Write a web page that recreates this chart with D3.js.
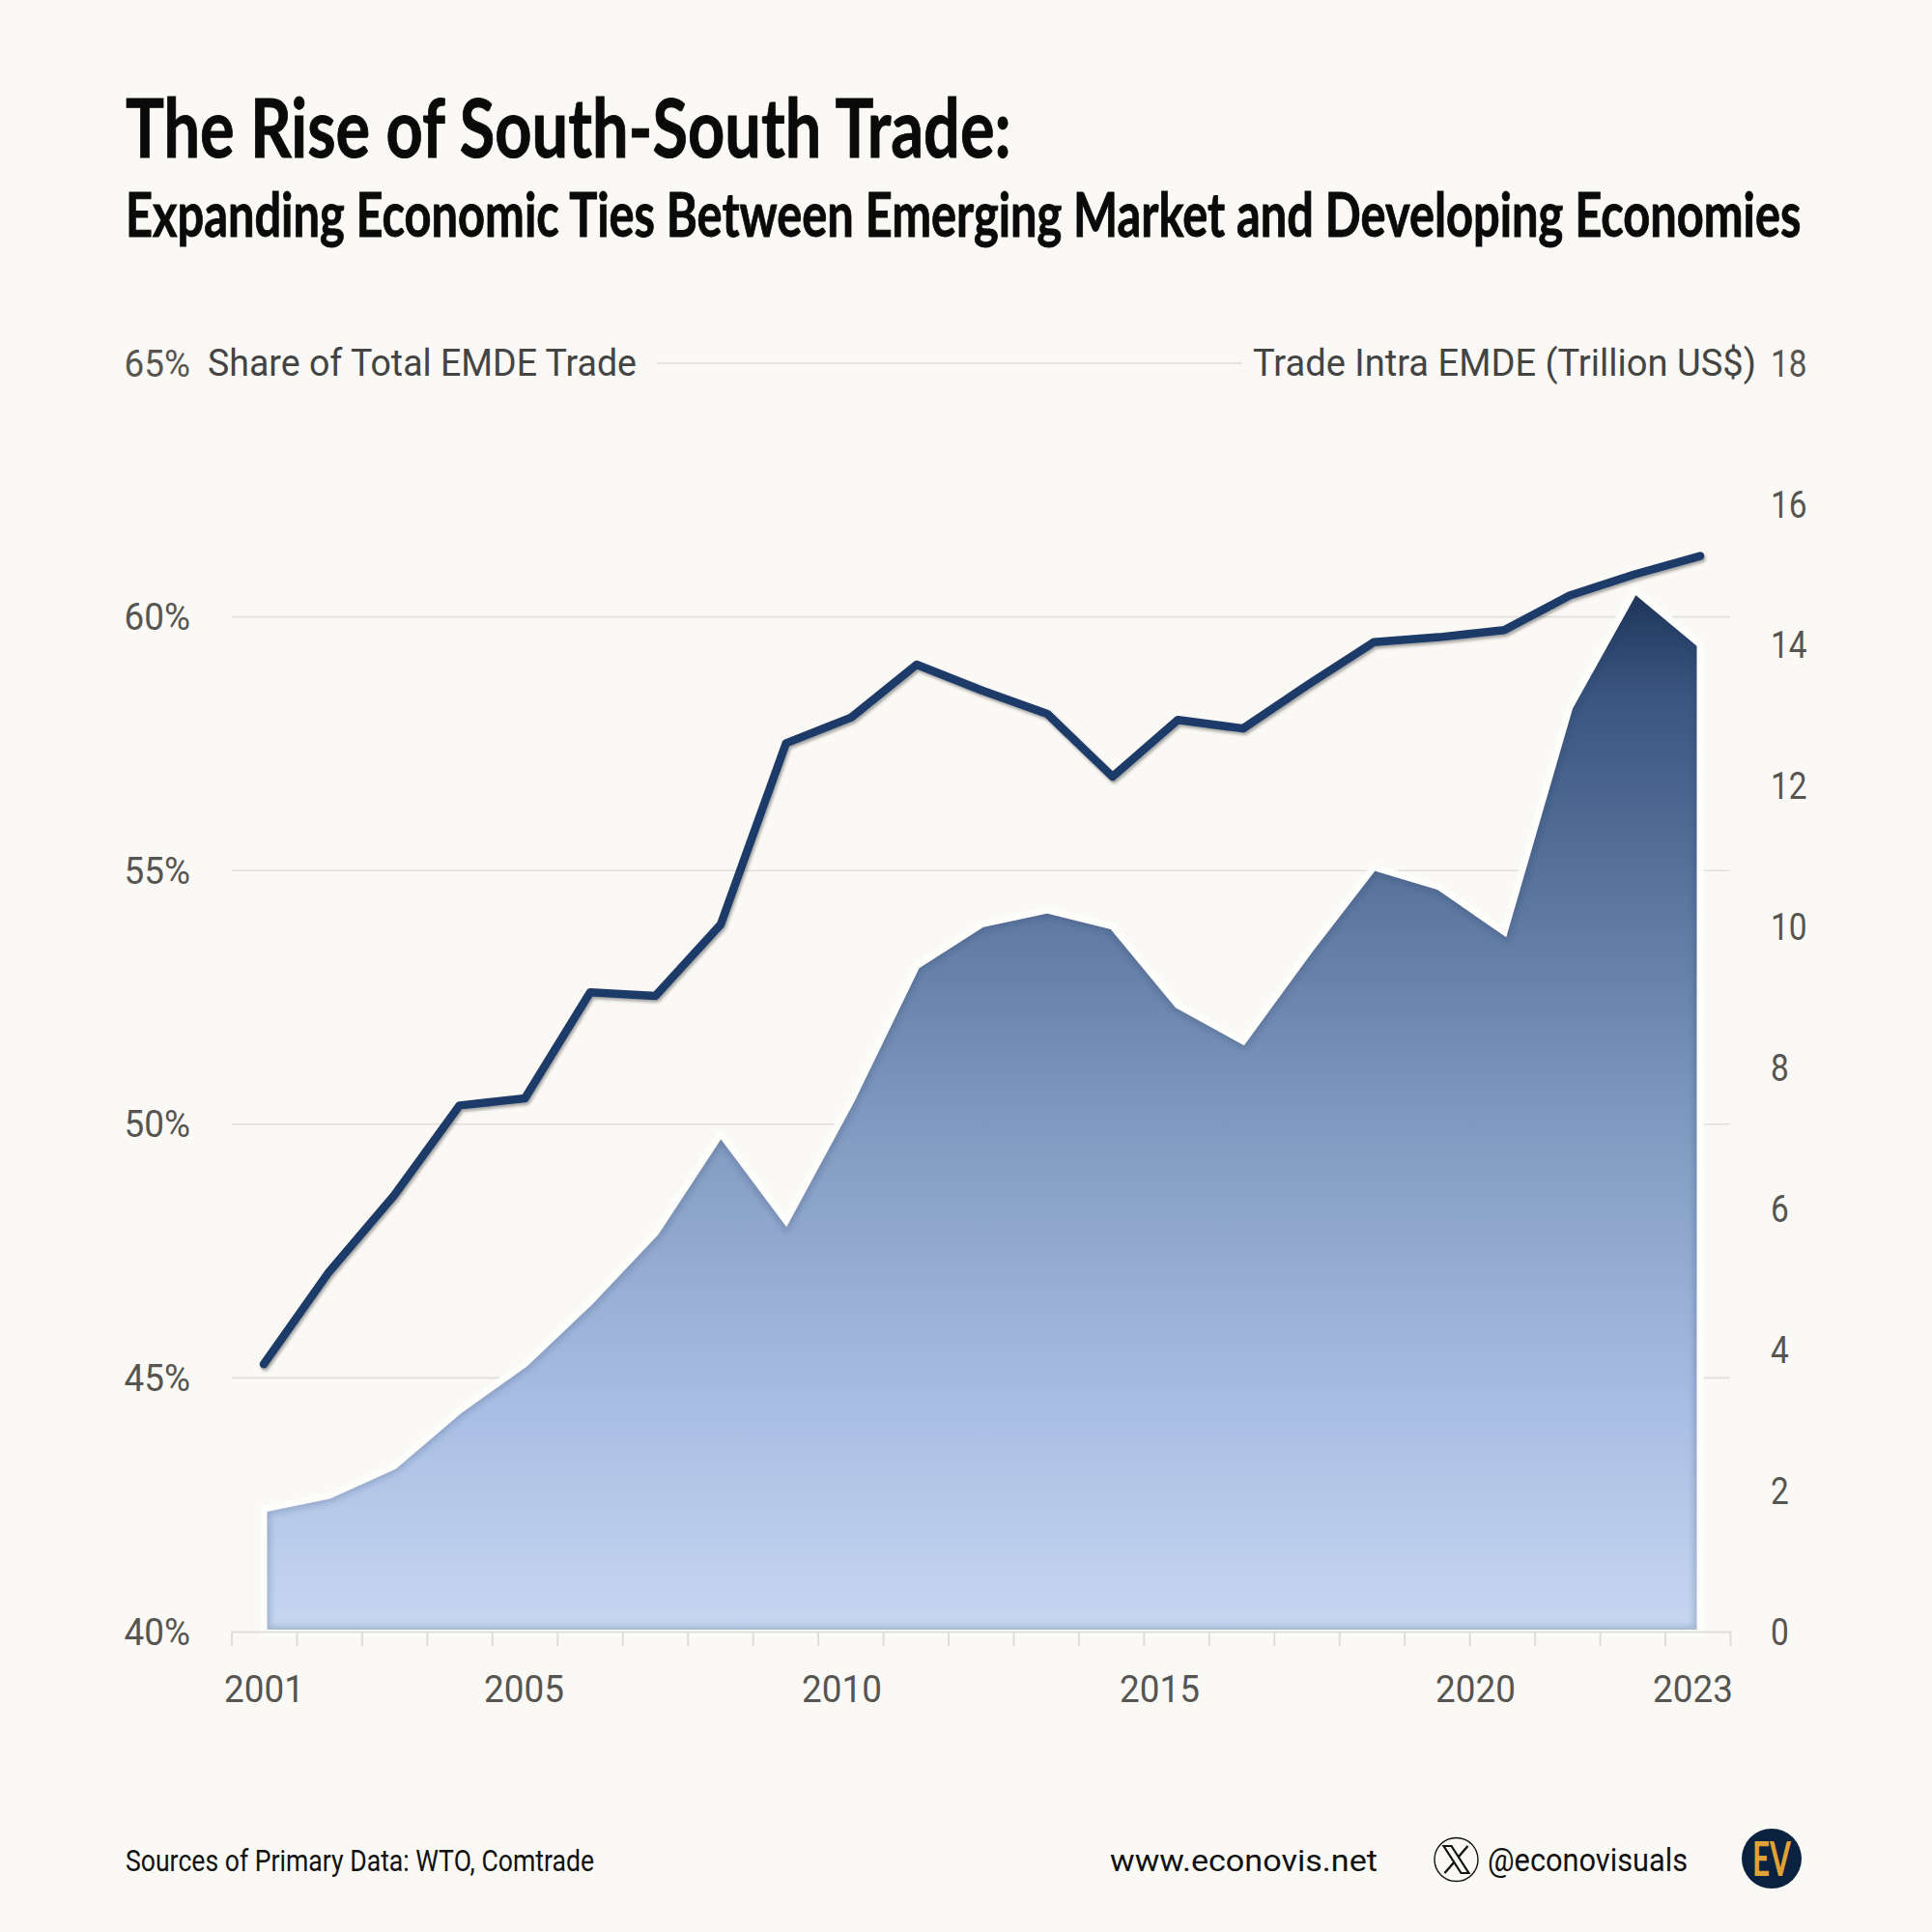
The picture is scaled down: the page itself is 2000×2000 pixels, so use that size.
<!DOCTYPE html>
<html><head><meta charset="utf-8">
<script src="https://cdn.jsdelivr.net/npm/d3@7/dist/d3.min.js"></script>
<style>html,body{margin:0;padding:0;background:#faf9f5}svg{display:block}</style>
</head><body><svg id="c" width="2000" height="2000"></svg>
<script>
const years = d3.range(2001, 2024);
const shareValues = [45.27,47.09,48.6,50.37,50.51,52.6,52.53,53.94,57.51,58.02,59.06,58.55,58.09,56.85,57.97,57.8,58.67,59.5,59.6,59.74,60.42,60.84,61.2];
const tradeValues = [1.74,1.93,2.35,3.14,3.8,4.68,5.66,7.07,5.83,7.54,9.45,10.04,10.24,10.01,8.89,8.38,9.65,10.85,10.57,9.93,13.12,14.78,14.01];
const leftTicks = [40,45,50,55,60,65];
const rightTicks = [0,2,4,6,8,10,12,14,16,18];
const gridTicks = [45,50,55,60];
const yearLabels = [2001,2005,2010,2015,2020,2023];
const yearLabelPos = [273,542,871,1200,1527,1752];

const svg = d3.select('#c');
const BG = '#faf9f5', SANS = 'Roboto', NARROW = 'Lato';
svg.append('rect').attr('width',2000).attr('height',2000).attr('fill',BG);

const x = d3.scalePoint().domain(years).range([273,1760]);
const xTicks = d3.scaleLinear().domain([0,23]).range([239.5,1791]);
const xLab = d3.scaleLinear().domain(yearLabels).range(yearLabelPos);
const yL = d3.scaleLinear().domain([40,65]).range([1689,376]);
const yR = d3.scaleLinear().domain([0,18]).range([1689,376]);

const defs = svg.append('defs');
const grad = defs.append('linearGradient').attr('id','g').attr('gradientUnits','userSpaceOnUse')
  .attr('x1',0).attr('x2',0).attr('y1',yR(14.78)).attr('y2',yR(0));
[[0,'#1f3559'],[0.1,'#3a5580'],[0.3,'#5c769f'],[0.5,'#7f97be'],[0.78,'#a8bde3'],[1,'#c6d7f1']]
  .forEach(s=>grad.append('stop').attr('offset',s[0]).attr('stop-color',s[1]));
const ds = defs.append('filter').attr('id','ds').attr('x','-5%').attr('y','-5%').attr('width','110%').attr('height','110%');
ds.append('feDropShadow').attr('dx',1.5).attr('dy',2.5).attr('stdDeviation',1.6).attr('flood-color','#000').attr('flood-opacity',.35);
defs.append('filter').attr('id','bl').append('feGaussianBlur').attr('stdDeviation',3);

const area = d3.area().x((d,i)=>x(years[i])).y0(yR(0)+1.5).y1(d=>yR(d));
const areaD = area(tradeValues);
defs.append('clipPath').attr('id','ac').append('path').attr('d',areaD);

// grid
svg.append('g').selectAll('line').data(gridTicks).join('line')
  .attr('x1',239.5).attr('x2',1791).attr('y1',d=>yL(d)).attr('y2',d=>yL(d))
  .attr('stroke','#e0dfda').attr('stroke-width',1.6);
svg.append('line').attr('x1',680).attr('x2',1286).attr('y1',yL(65)).attr('y2',yL(65))
  .attr('stroke','#e0dfda').attr('stroke-width',1.6);

// area
svg.append('path').attr('d',areaD).attr('fill','url(#g)');
svg.append('g').attr('clip-path','url(#ac)').append('path').attr('d',areaD)
  .attr('fill','none').attr('stroke','#1a3058').attr('stroke-opacity',.22).attr('stroke-width',13).attr('filter','url(#bl)');
svg.append('path').attr('d',areaD).attr('fill','none').attr('stroke','#fdfdfb').attr('stroke-width',7).attr('stroke-linejoin','miter');

// line
svg.append('path').attr('d',d3.line().x((d,i)=>x(years[i])).y(d=>yL(d))(shareValues))
  .attr('fill','none').attr('stroke','#1f3a68').attr('stroke-width',8.5)
  .attr('stroke-linecap','round').attr('stroke-linejoin','round').attr('filter','url(#ds)');

function squeeze(sel,k){sel.each(function(){const t=d3.select(this);t.attr('textLength',this.getComputedTextLength()*k).attr('lengthAdjust','spacingAndGlyphs');});}
function label(px,py,s,o){
  const t=svg.append('text').attr('x',px).attr('y',py).text(s)
    .attr('font-family',o.font||SANS).attr('font-size',o.size).attr('font-weight',o.weight||400)
    .attr('fill',o.fill||'#111').attr('text-anchor',o.anchor||'start');
  if(o.width) t.attr('textLength',o.width).attr('lengthAdjust','spacingAndGlyphs');
  return t;
}
// horizontal fit by transform, for text whose natural width is wider than the page
function fitted(px,py,s,o){
  const t=svg.append('text').text(s).attr('font-family',o.font).attr('font-size',o.size).attr('font-weight',o.weight)
    .attr('fill',o.fill).attr('stroke',o.fill).attr('stroke-width',o.heavy);
  const k=o.width/t.node().getComputedTextLength();
  t.attr('transform',`translate(${px},${py}) scale(${k},1)`);
  return t;
}

// axes
const xAxis = d3.axisBottom(xTicks).tickValues(d3.range(24)).tickSize(15).tickSizeOuter(0).tickFormat('');
const gx = svg.append('g').attr('transform',`translate(0,${yR(0)})`).call(xAxis);
gx.selectAll('path,line').attr('stroke','#dfded9').attr('stroke-width',2);
const gl = svg.append('g').attr('transform','translate(197,1)').call(d3.axisLeft(yL).tickValues(leftTicks).tickSize(0).tickPadding(0).tickFormat(d=>d+'%'));
const gr = svg.append('g').attr('transform','translate(1833,1)').call(d3.axisRight(yR).tickValues(rightTicks).tickSize(0).tickPadding(0));
const gy = svg.append('g').attr('transform','translate(0,1762)').call(d3.axisBottom(xLab).tickValues(yearLabels).tickSize(0).tickPadding(0).tickFormat(d3.format('d')));
[gl,gr,gy].forEach((g,i)=>{g.select('.domain').remove();g.selectAll('text').attr('font-family',SANS).attr('font-weight',400).attr('font-size',38).attr('fill','#565551').call(squeeze,i==1?.88:.97);});
gy.selectAll('text').attr('dy',0).attr('y',0);

// titles
fitted(130,163,'The Rise of South-South Trade:',{font:NARROW,size:85,weight:700,fill:'#0a0a0a',width:917,heavy:.9});
fitted(130,245,'Expanding Economic Ties Between Emerging Market and Developing Economies',{font:NARROW,size:64,weight:700,fill:'#0a0a0a',width:1735,heavy:.9});
label(215,389,'Share of Total EMDE Trade',{size:38,fill:'#444',width:444});
label(1297,389,'Trade Intra EMDE (Trillion US$)',{size:38,fill:'#444',width:521});

// footer
label(130,1937,'Sources of Primary Data: WTO, Comtrade',{size:31,fill:'#111',width:485});
label(1149,1937,'www.econovis.net',{size:32,fill:'#111',width:277});
label(1540,1937,'@econovisuals',{size:33,fill:'#111',width:207});
const xi = svg.append('g').attr('transform','translate(1507.5,1925)');
xi.append('circle').attr('r',22.5).attr('fill','none').attr('stroke','#111').attr('stroke-width',1.4);
xi.append('path').attr('d','M-13,-14 L-5,-14 L13,14 L5,14 Z').attr('fill','none').attr('stroke','#111').attr('stroke-width',2.2);
xi.append('path').attr('d','M12,-14 L2,-2.5 M-2,2.5 L-12,14').attr('fill','none').attr('stroke','#111').attr('stroke-width',2.4);
const ev = svg.append('g').attr('transform','translate(1834,1924)');
ev.append('circle').attr('r',31).attr('fill','#0b2140');
ev.append('text').attr('text-anchor','middle').attr('y',18).attr('font-family',NARROW).attr('font-weight',700)
  .attr('font-size',50).attr('textLength',40).attr('lengthAdjust','spacingAndGlyphs').attr('fill','#e0a236').text('EV');
</script></body></html>
